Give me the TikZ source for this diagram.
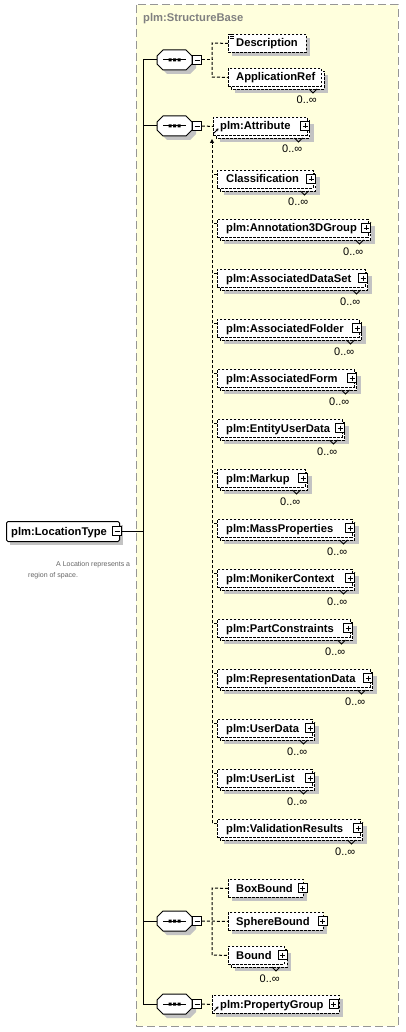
\documentclass[tikz,border=0pt]{standalone}
\usepackage{fontspec}
\setmainfont{Liberation Sans}
\usetikzlibrary{calc,arrows.meta}
\definecolor{bgy}{RGB}{255,255,221}
\definecolor{shd}{RGB}{195,195,195}
\definecolor{frm}{RGB}{150,150,150}
\definecolor{lblgray}{RGB}{128,128,128}
\definecolor{docgray}{RGB}{100,100,100}
\newcommand\elbox[8]{%
  \ifnum#7=1
    \fill[shd] ({#2+7},{#3-2}) rectangle ({#4+7},{#3+16});
    \draw[box] ({#2+3},{#3-6}) rectangle ({#4+3},{#3+12});
    \draw[line width=0.9pt] ({#4-12},{#3+12}) -- ({#4-8},{#3+16}) -- ({#4-4},{#3+12});
    \node[occ] (#1-o) at ({#4-4},{#3+27}) {0..∞};
  \else
    \fill[shd] ({#2+4},{#3-5}) rectangle ({#4+4},{#3+13});
  \fi
  \node[box, anchor=north west, minimum width={#4pt-#2pt}, minimum height=18pt, inner sep=0pt] (#1) at (#2,{#3-9}) {};
  \node[lbl] (#1-t) at (#5,{#3+4}) {#6};
  \ifdim#8pt>0pt \node[plusic] (#1-p) at (#8,#3) {};\fi
}
\newcommand\octo[2]{%
  \fill[shd] (167,{#2-6}) -- (190,{#2-6}) -- (196,{#2}) -- (196,{#2+8}) -- (190,{#2+14}) -- (167,{#2+14}) -- (161,{#2+8}) -- (161,{#2}) -- cycle;
  \node[inner sep=0pt, minimum width=35pt, minimum height=20pt] (#1) at (174.5,#2) {};
  \draw[line width=1pt, fill=white] (163,{#2-10}) -- (186,{#2-10}) -- (192,{#2-4}) -- (192,{#2+4}) -- (186,{#2+10}) -- (163,{#2+10}) -- (157,{#2+4}) -- (157,{#2-4}) -- cycle;
  \draw[line width=1pt] (163,#2) -- (186,#2);
  \fill (168.5,{#2-1.5}) rectangle (171.5,{#2+1.5}) (173,{#2-1.5}) rectangle (176,{#2+1.5}) (177.5,{#2-1.5}) rectangle (180.5,{#2+1.5});
  \node[minusic] (#1-m) at (197,#2) {};
  \draw[line width=1pt] (143,#2) -- (#1.west);
}
\begin{document}
\begin{tikzpicture}[x=1pt,y=-1pt,
  box/.style={draw=black, fill=white, line width=0.9pt, dash pattern=on 2.5pt off 1.5pt},
  conn/.style={line width=1pt, dash pattern=on 3pt off 2pt},
  lbl/.style={font=\fontsize{11.2}{13}\selectfont\bfseries, inner sep=0pt, anchor=base west},
  occ/.style={font=\fontsize{11}{12}\selectfont, inner sep=0pt, anchor=base east},
  doc/.style={font=\fontsize{7}{8}\selectfont, text=docgray, inner sep=0pt, anchor=base west},
  plusic/.style={draw, fill=white, solid, line width=0.8pt, minimum size=9pt, inner sep=0pt,
    path picture={\draw[line width=0.8pt] ([xshift=2pt]path picture bounding box.west) -- ([xshift=-2pt]path picture bounding box.east) ([yshift=-2pt]path picture bounding box.north) -- ([yshift=2pt]path picture bounding box.south);}},
  minusic/.style={draw, fill=white, solid, line width=0.8pt, minimum size=9pt, inner sep=0pt,
    path picture={\draw[line width=0.8pt] ([xshift=2pt]path picture bounding box.west) -- ([xshift=-2pt]path picture bounding box.east);}}
]
\useasboundingbox (0,0) rectangle (405,1032);
% container
\draw[frm, line width=1pt, dash pattern=on 8pt off 4pt, fill=bgy] (136,5) rectangle (398,1026);
\node[lbl, text=lblgray] (sbase) at (143,22) {plm:StructureBase};

% root element
\fill[shd] (10,525) rectangle (123,545);
\node[draw, line width=1pt, fill=white, rounded corners=1.5pt, minimum width=113pt, minimum height=20pt, inner sep=0pt, anchor=north west] (lt) at (6,521) {};
\node[lbl] (lt-t) at (11,535) {plm:LocationType};
\node[minusic] (lt-m) at (117,531) {};
\node[doc] (doc1) at (56,566) {A Location represents a};
\node[doc] (doc2) at (28,577) {region of space.};

% trunk
\coordinate (trtop) at (143,60);
\coordinate (trbot) at (143,1004);
\draw[line width=1pt] (lt-m.east) -- (143,531);
\draw[line width=1pt] (trtop) -- (trbot);

% sequence 1
\octo{s1}{60}
\elbox{desc}{228}{43}{306}{236}{Description}{0}{0}
\draw[line width=0.7pt] (229.5,34.5) -- (233,34.5) (229.5,36.5) -- (233.5,36.5) (229.5,38.5) -- (233.5,38.5);
\elbox{appref}{228}{77}{321}{236}{ApplicationRef}{1}{0}
\draw[conn] (s1-m.east) -- (212,60);
\draw[conn] (desc.west) -- (212,43) -- (212,77) -- (appref.west);

% sequence 2
\octo{s2}{126}
\elbox{attr}{213}{126}{306.5}{220}{plm:Attribute}{1}{305}
\draw[line width=0.9pt, -{Stealth[length=2.5pt,width=3pt]}] (214,133) -- (218.5,128.5);
\draw[conn] (s2-m.east) -- (attr.west);
\elbox{classif}{217}{179}{312.5}{226}{Classification}{1}{311}
\elbox{annot}{217}{228}{367.5}{226}{plm:Annotation3DGroup}{1}{366}
\elbox{adset}{217}{278}{364.5}{226}{plm:AssociatedDataSet}{1}{363}
\elbox{afold}{217}{328}{358.5}{226}{plm:AssociatedFolder}{1}{357}
\elbox{aform}{217}{378}{353.5}{226}{plm:AssociatedForm}{1}{352}
\elbox{eud}{217}{428}{341.5}{226}{plm:EntityUserData}{1}{340}
\elbox{markup}{217}{478}{304.5}{226}{plm:Markup}{1}{303}
\elbox{massp}{217}{528}{351.5}{226}{plm:MassProperties}{1}{350}
\elbox{monik}{217}{578}{351.5}{226}{plm:MonikerContext}{1}{350}
\elbox{partc}{217}{628}{349.5}{226}{plm:PartConstraints}{1}{348}
\elbox{repd}{217}{678}{369.5}{226}{plm:RepresentationData}{1}{368}
\elbox{userd}{217}{728}{311.5}{226}{plm:UserData}{1}{310}
\elbox{userl}{217}{778}{311.5}{226}{plm:UserList}{1}{310}
\elbox{valres}{217}{828}{359.5}{226}{plm:ValidationResults}{1}{358}
\coordinate (subtop) at (212,139);
\coordinate (subbot) at (212,823);
\draw[conn, -{Triangle[length=4pt,width=4pt]}] (subbot) -- (subtop);
\foreach \n in {classif,annot,adset,afold,aform,eud,markup,massp,monik,partc,repd,userd,userl,valres}{
  \draw[conn] ([yshift=5pt]\n.west) -- ++(-5,0);
}

% sequence 3
\octo{s3}{921}
\elbox{boxb}{228}{888}{303}{236}{BoxBound}{0}{302.5}
\elbox{sphb}{228}{921}{323}{236}{SphereBound}{0}{322.5}
\elbox{bound}{228}{955}{284}{236}{Bound}{1}{282.5}
\draw[conn] (s3-m.east) -- (sphb.west);
\draw[conn] (boxb.west) -- (212,888) -- (212,955) -- (bound.west);

% sequence 4
\octo{s4}{1004}
\elbox{propg}{212}{1004}{339}{220}{plm:PropertyGroup}{0}{333.5}
\draw[line width=0.9pt, -{Stealth[length=2.5pt,width=3pt]}] (214,1011) -- (218.5,1006.5);
\draw[conn] (s4-m.east) -- (propg.west);
\end{tikzpicture}
\end{document}
